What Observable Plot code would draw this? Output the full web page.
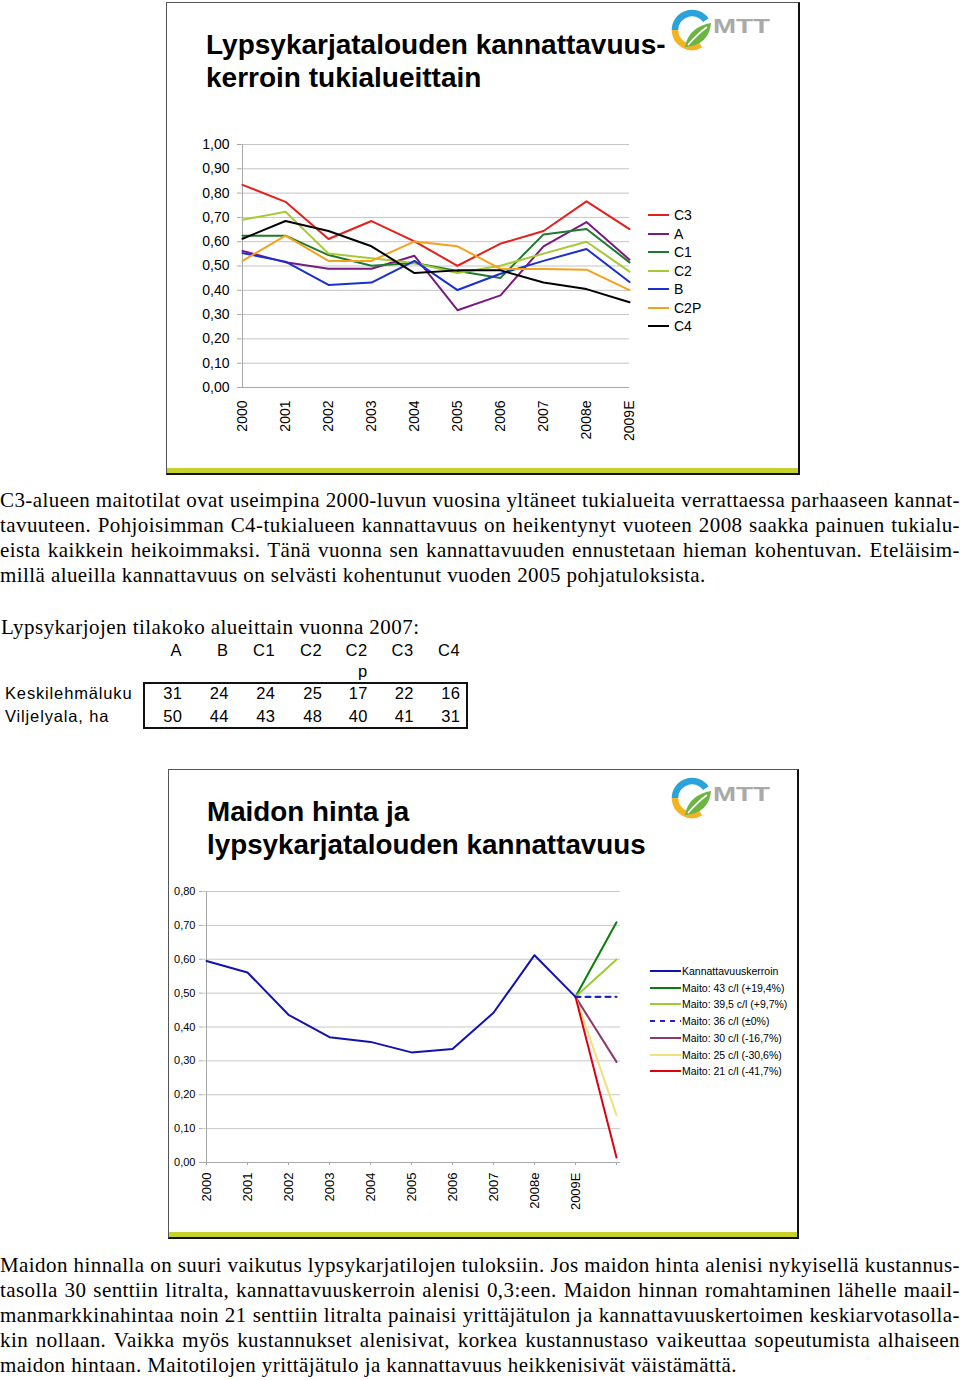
<!DOCTYPE html>
<html>
<head>
<meta charset="utf-8">
<script src="https://cdn.jsdelivr.net/npm/d3@7"></script>
<script src="https://cdn.jsdelivr.net/npm/@observablehq/plot@0.6"></script>
<style>
  html, body { margin: 0; padding: 0; background: #fff; }
  #page { position: relative; width: 960px; height: 1380px; overflow: hidden; font-family: "Liberation Sans", Arial, sans-serif; color: #000; }
  .abs { position: absolute; }
  .frame { position: absolute; box-sizing: border-box; border-left: 1px solid #555; border-top: 1px solid #555; border-right: 2px solid #111; border-bottom: 2px solid #111; background: #fff; }
  .band { position: absolute; left: 0; right: 0; bottom: 0; height: 5px; background: #c6d12c; }
  .title { position: absolute; font-family: "Liberation Sans", Arial, sans-serif; font-weight: bold; white-space: nowrap; }
  .para { position: absolute; left: 0; width: 960px; font-family: "Liberation Serif", "Times New Roman", serif; font-size: 21px; letter-spacing: 0.42px; line-height: 25px; }
  .para div { white-space: nowrap; text-align: justify; text-align-last: justify; word-spacing: -3px; }
  .para div.last { text-align-last: left; word-spacing: 0; }
  .leg { position: absolute; display: flex; align-items: center; white-space: nowrap; }
  .cell { position: absolute; width: 60px; text-align: right; font-family: "Liberation Sans", Arial, sans-serif; font-size: 16.5px; letter-spacing: 0.4px; line-height: 20px; white-space: pre-line; }
</style>
</head>
<body>
<div id="page"></div>
<script>
// ---------------- DATA ----------------
const years1 = ["2000","2001","2002","2003","2004","2005","2006","2007","2008e","2009E"];
const yTicks1 = [0,0.1,0.2,0.3,0.4,0.5,0.6,0.7,0.8,0.9,1.0];
const series1 = ["C3","A","C1","C2","B","C2P","C4"];
const valC3  = [0.834,0.764,0.611,0.685,0.601,0.501,0.592,0.644,0.766,0.652];
const valA   = [0.562,0.515,0.489,0.489,0.542,0.318,0.379,0.581,0.681,0.526];
const valC1  = [0.625,0.625,0.545,0.501,0.512,0.479,0.451,0.630,0.652,0.515];
const valC2  = [0.690,0.723,0.551,0.532,0.512,0.471,0.501,0.551,0.600,0.477];
const valB   = [0.553,0.518,0.422,0.432,0.521,0.401,0.468,0.521,0.570,0.434];
const valC2P = [0.521,0.625,0.521,0.521,0.601,0.581,0.488,0.488,0.485,0.401];
const valC4  = [0.612,0.685,0.644,0.581,0.471,0.482,0.482,0.432,0.405,0.351];
const colors1 = ["#e3201b","#7a1a80","#1f7a2e","#a6c935","#1a2fd0","#f5a21b","#000000"];

const years2 = ["2000","2001","2002","2003","2004","2005","2006","2007","2008e","2009E"," "];
const yTicks2 = [0,0.1,0.2,0.3,0.4,0.5,0.6,0.7,0.8];
const kerroin = [0.595,0.561,0.436,0.370,0.356,0.325,0.335,0.442,0.612,0.489];
const mainLabel2 = "Kannattavuuskerroin";
const scenarioLabels = ["Maito: 43 c/l (+19,4%)","Maito: 39,5 c/l (+9,7%)","Maito: 36 c/l (±0%)","Maito: 30 c/l (-16,7%)","Maito: 25 c/l (-30,6%)","Maito: 21 c/l (-41,7%)"];
const scenarioValues = [0.709,0.599,0.489,0.297,0.140,0.015];
const colors2 = ["#1212b0","#0b7d0b","#9acd32","#2222c8","#8b3a6b","#f3df7c","#e00010"];

const tableTitle = "Lypsykarjojen tilakoko alueittain vuonna 2007:";
const tableCols = ["A","B","C1","C2","C2\np","C3","C4"];
const tableRows = ["Keskilehmäluku","Viljelyala, ha"];
const cowCounts = [31,24,24,25,17,22,16];
const fieldArea = [50,44,43,48,40,41,31];

const title1 = ["Lypsykarjatalouden kannattavuus-","kerroin tukialueittain"];
const title2 = ["Maidon hinta ja","lypsykarjatalouden kannattavuus"];
const para1 = [
 "C3-alueen maitotilat ovat useimpina 2000-luvun vuosina yltäneet tukialueita verrattaessa parhaaseen kannat-",
 "tavuuteen. Pohjoisimman C4-tukialueen kannattavuus on heikentynyt vuoteen 2008 saakka painuen tukialu-",
 "eista kaikkein heikoimmaksi. Tänä vuonna sen kannattavuuden ennustetaan hieman kohentuvan. Eteläisim-",
 "millä alueilla kannattavuus on selvästi kohentunut vuoden 2005 pohjatuloksista."
];
const para2 = [
 "Maidon hinnalla on suuri vaikutus lypsykarjatilojen tuloksiin. Jos maidon hinta alenisi nykyisellä kustannus-",
 "tasolla 30 senttiin litralta, kannattavuuskerroin alenisi 0,3:een. Maidon hinnan romahtaminen lähelle maail-",
 "manmarkkinahintaa noin 21 senttiin litralta painaisi yrittäjätulon ja kannattavuuskertoimen keskiarvotasolla-",
 "kin nollaan. Vaikka myös kustannukset alenisivat, korkea kustannustaso vaikeuttaa sopeutumista alhaiseen",
 "maidon hintaan. Maitotilojen yrittäjätulo ja kannattavuus heikkenisivät väistämättä."
];

// ---------------- LAYOUT ----------------
const page = document.getElementById("page");
function el(tag, cls, style, html) {
  const e = document.createElement(tag);
  if (cls) e.className = cls;
  if (style) Object.assign(e.style, style);
  if (html != null) e.innerHTML = html;
  page.appendChild(e);
  return e;
}
const fmt = d => d.toFixed(2).replace(".", ",");

// frames
function frame(l, t, r, b) {
  const f = el("div", "frame", {left: l + "px", top: t + "px", width: (r - l) + "px", height: (b - t) + "px"});
  const band = document.createElement("div"); band.className = "band"; f.appendChild(band);
}
frame(166, 2, 800, 475);
frame(168, 769, 799, 1239);

// logos
function logo(left, top) {
  const svg = `<svg width="110" height="52" viewBox="0 0 110 52" xmlns="http://www.w3.org/2000/svg">
    <path d="M7,22 A17,17 0 0,1 37.9,12.2" fill="none" stroke="#2aa3dd" stroke-width="6.5"/>
    <path d="M7,22 A17,17 0 0,0 32.5,36.7" fill="none" stroke="#f2b324" stroke-width="6.5"/>
    <path d="M17,39 C19,25 30,17 43,15 C42,29 33,38 17,39 Z" fill="#6cb443"/>
    <path d="M20,37 C26,30 32,24 39,19" fill="none" stroke="#fff" stroke-width="1.6"/>
    <text x="45" y="25" font-family="Liberation Sans, Arial" font-weight="bold" font-size="19.5" fill="#a9a9a9" textLength="57" lengthAdjust="spacingAndGlyphs">MTT</text>
  </svg>`;
  el("div", "abs", {left: left + "px", top: top + "px"}, svg);
}
logo(668, 8);
logo(668, 776);

// titles
el("div", "title", {left: "206px", top: "27.5px", fontSize: "28px", lineHeight: "33.5px"}, title1.join("<br>"));
el("div", "title", {left: "207px", top: "794.5px", fontSize: "27.8px", lineHeight: "33.5px"}, title2.join("<br>"));

// ---------------- CHART 1 ----------------
const data1 = [];
const vals1 = [valC3, valA, valC1, valC2, valB, valC2P, valC4];
series1.forEach((s, i) => years1.forEach((y, j) => data1.push({series: s, year: y, value: vals1[i][j]})));

const plot1 = Plot.plot({
  width: 460, height: 320,
  marginLeft: 61, marginRight: 11, marginTop: 14, marginBottom: 63,
  style: {fontFamily: "Liberation Sans, Arial, sans-serif", fontSize: "14px", background: "transparent", overflow: "visible", color: "#000"},
  x: {type: "point", domain: years1, padding: 0, label: null},
  y: {domain: [0, 1], label: null},
  color: {domain: series1, range: colors1},
  marks: [
    Plot.gridY(yTicks1, {stroke: "#c4c4c4", strokeOpacity: 1}),
    Plot.ruleX([years1[0]], {stroke: "#a8a8a8"}),
    Plot.ruleY([0], {stroke: "#a8a8a8"}),
    Plot.axisY(yTicks1, {tickFormat: fmt, tickSize: 4, tickPadding: 8, stroke: "#a8a8a8", fill: "#000", fontSize: 14, label: null}),
    Plot.axisX({tickRotate: -90, tickSize: 0, tickPadding: 13, fill: "#000", fontSize: 14, label: null}),
    Plot.line(data1, {x: "year", y: "value", z: "series", stroke: "series", strokeWidth: 2})
  ]
});
const w1 = el("div", "abs", {left: "180px", top: "130px"});
w1.appendChild(plot1);

// legend 1
series1.forEach((s, i) => {
  const cy = 215 + i * 18.5;
  el("div", "leg", {left: "648px", top: (cy - 9) + "px", height: "18px", fontSize: "14px"},
    `<svg width="26" height="4" style="margin-right:0"><line x1="0" x2="21" y1="2" y2="2" stroke="${colors1[i]}" stroke-width="2"/></svg>${s}`);
});

// ---------------- CHART 2 ----------------
const mainData = years2.slice(0, kerroin.length).map((y, j) => ({series: mainLabel2, year: y, value: kerroin[j]}));
const last = years2[kerroin.length - 1], ext = years2[years2.length - 1];
const scen = [];
scenarioLabels.forEach((s, i) => {
  scen.push({series: s, year: last, value: kerroin[kerroin.length - 1]});
  scen.push({series: s, year: ext, value: scenarioValues[i]});
});
const dashedLabel = scenarioLabels[2];
const allLabels2 = [mainLabel2, ...scenarioLabels];

const plot2 = Plot.plot({
  width: 460, height: 340,
  marginLeft: 32, marginRight: 10, marginTop: 11, marginBottom: 58,
  style: {fontFamily: "Liberation Sans, Arial, sans-serif", fontSize: "11px", background: "transparent", overflow: "visible", color: "#000"},
  x: {type: "point", domain: years2, padding: 0, label: null},
  y: {domain: [0, 0.8], label: null},
  color: {domain: allLabels2, range: colors2},
  marks: [
    Plot.gridY(yTicks2, {stroke: "#c8c8c8", strokeOpacity: 1}),
    Plot.ruleX([years2[0]], {stroke: "#a8a8a8"}),
    Plot.ruleY([0], {stroke: "#a8a8a8"}),
    Plot.axisY(yTicks2, {tickFormat: fmt, tickSize: 3, tickPadding: 4, stroke: "#a8a8a8", fill: "#000", fontSize: 11, label: null}),
    Plot.axisX({tickRotate: -90, tickSize: 3, tickPadding: 7, stroke: "#a8a8a8", fill: "#000", fontSize: 13, label: null}),
    Plot.line(scen.filter(d => d.series !== dashedLabel), {x: "year", y: "value", z: "series", stroke: "series", strokeWidth: 2}),
    Plot.line(scen.filter(d => d.series === dashedLabel), {x: "year", y: "value", z: "series", stroke: "series", strokeWidth: 2.2, strokeDasharray: "5,5"}),
    Plot.line(mainData, {x: "year", y: "value", z: "series", stroke: "series", strokeWidth: 2})
  ]
});
const w2 = el("div", "abs", {left: "170px", top: "880px"});
w2.appendChild(plot2);

// legend 2
allLabels2.forEach((s, i) => {
  const cy = 971 + i * 16.7;
  const dash = s === dashedLabel ? ` stroke-dasharray="5,5"` : "";
  el("div", "leg", {left: "650px", top: (cy - 8) + "px", height: "16px", fontSize: "10.5px"},
    `<svg width="32" height="4"><line x1="0" x2="31" y1="2" y2="2" stroke="${colors2[i]}" stroke-width="2"${dash}/></svg>${s}`);
});

// ---------------- TEXT ----------------
function para(lines, top) {
  const p = el("div", "para", {top: top + "px"});
  lines.forEach((t, i) => {
    const d = document.createElement("div");
    if (i === lines.length - 1) d.className = "last";
    d.textContent = t;
    p.appendChild(d);
  });
}
para(para1, 487.5);
para(para2, 1252.5);

// table
el("div", "abs", {left: "1px", top: "614.5px", fontFamily: "Liberation Serif, Times New Roman, serif", fontSize: "21px", letterSpacing: "0.45px", lineHeight: "25px", whiteSpace: "nowrap"}, tableTitle);
const colEdges = [182, 228.5, 275, 322, 367.5, 413.5, 460];
tableCols.forEach((c, i) => {
  el("div", "cell", {left: (colEdges[i] - 60) + "px", top: "640px", lineHeight: "20.5px"}, c);
});
el("div", "abs", {left: "143px", top: "682px", width: "325px", height: "47px", boxSizing: "border-box", border: "2px solid #111"});
tableRows.forEach((r, k) => {
  const top = 683 + k * 23;
  el("div", "abs", {left: "5px", top: top + "px", fontSize: "16.5px", letterSpacing: "0.85px", lineHeight: "20px", whiteSpace: "nowrap"}, r);
  const vals = k === 0 ? cowCounts : fieldArea;
  vals.forEach((v, i) => el("div", "cell", {left: (colEdges[i] - 60 + 0.4) + "px", top: top + "px"}, String(v)));
});
</script>
</body>
</html>
